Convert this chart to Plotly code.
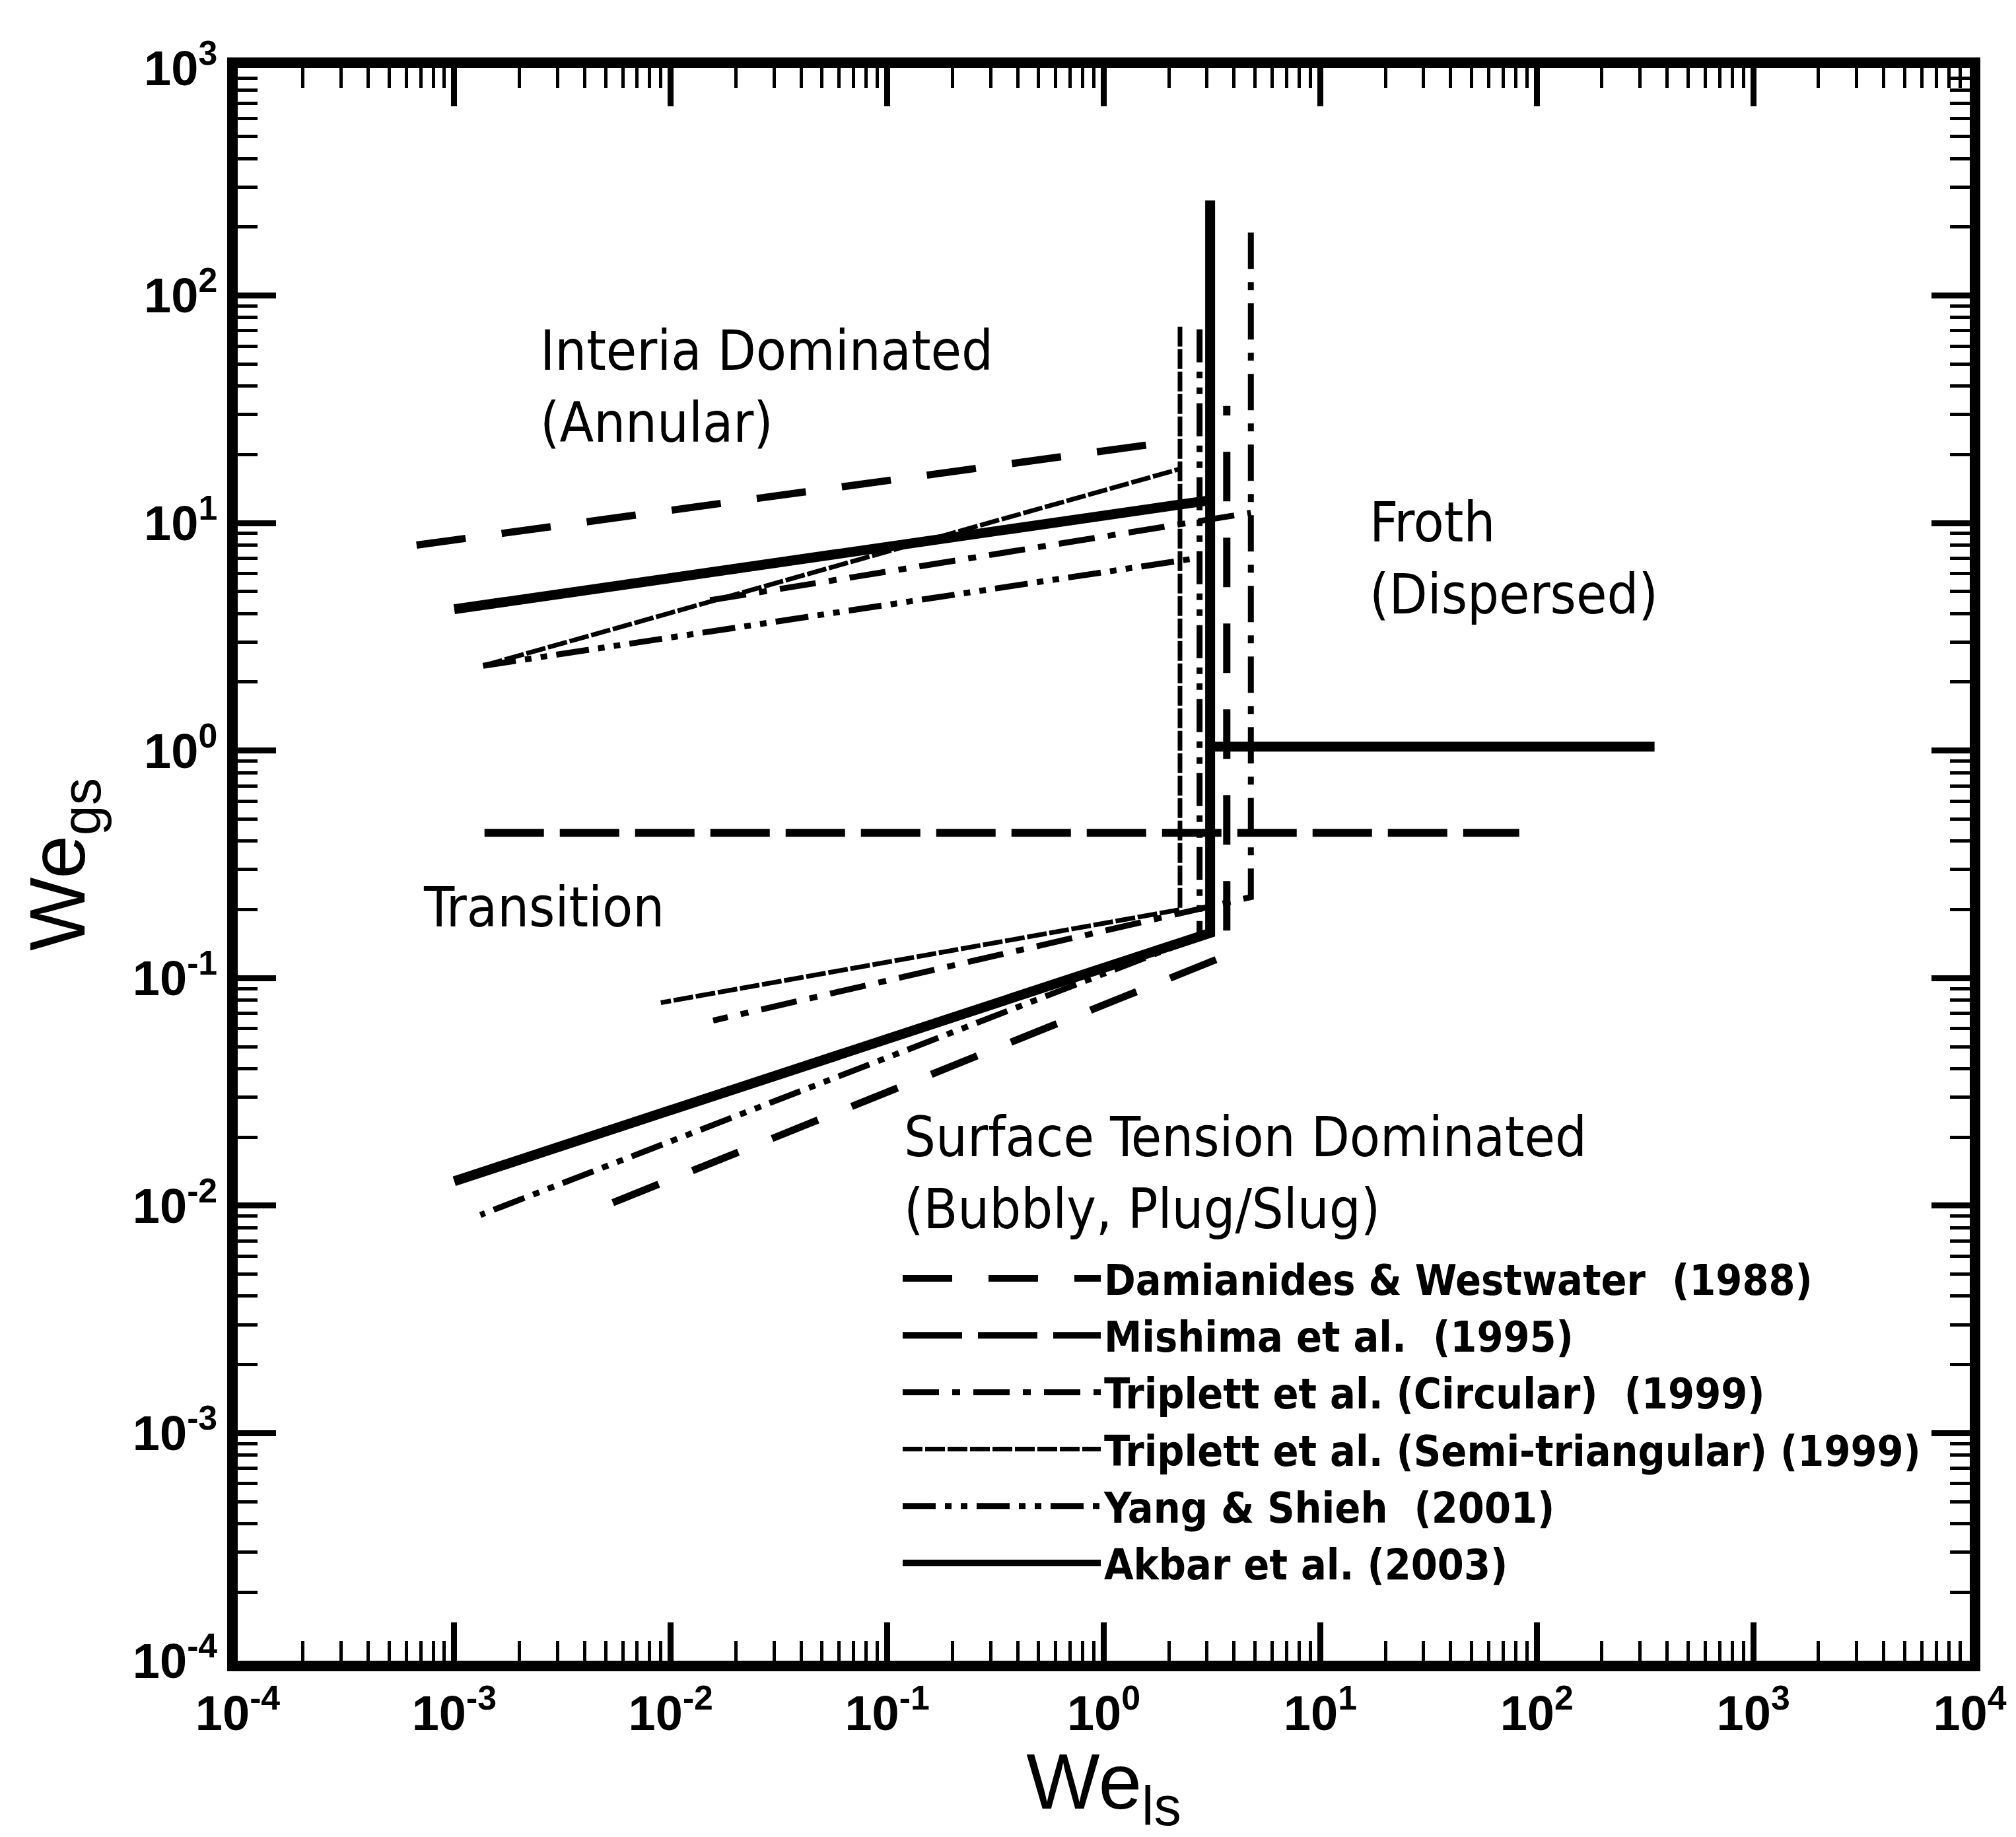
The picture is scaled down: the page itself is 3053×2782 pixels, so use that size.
import plotly.graph_objects as go

# ---------------- data ----------------
# Each correlation: boundary points; None separates segments
dw_x = [6.7e-4, 2.2, None, 5.4e-3, 3.7, 3.7]
dw_y = [8.0, 23.0, None, 0.0103, 0.126, 32.7]

mishima_x = [1.38e-3, 83.0]
mishima_y = [0.435, 0.435]

trip_circ_x = [0.0152, 4.78, None, 4.78, 4.78, 0.0157]
trip_circ_y = [4.58, 11.1, None, 189.0, 0.227, 0.0651]

trip_semi_x = [1.36e-3, 2.25, None, 2.25, 2.25, 0.0090]
trip_semi_y = [2.36, 17.3, None, 73.0, 0.20, 0.078]

yang_x = [1.36e-3, 2.77, None, 2.77, 2.77, 1.32e-3]
yang_y = [2.36, 7.04, None, 71.0, 0.152, 0.0091]

akbar_x = [1.0e-3, 3.1, None, 3.1, 3.1, 1.0e-3, None, 3.1, 350.0]
akbar_y = [4.18, 12.6, None, 262.0, 0.158, 0.0128, None, 1.04, 1.04]

series_names = [
    "Damianides & Westwater  (1988)",
    "Mishima et al.  (1995)",
    "Triplett et al. (Circular)  (1999)",
    "Triplett et al. (Semi-triangular) (1999)",
    "Yang & Shieh  (2001)",
    "Akbar et al. (2003)",
]

x_tick_vals = [1e-4, 1e-3, 1e-2, 1e-1, 1e0, 1e1, 1e2, 1e3, 1e4]
x_tick_text = ["10<sup>-4</sup>", "10<sup>-3</sup>", "10<sup>-2</sup>", "10<sup>-1</sup>",
               "10<sup>0</sup>", "10<sup>1</sup>", "10<sup>2</sup>", "10<sup>3</sup>", "10<sup>4</sup>"]
y_tick_vals = [1e-4, 1e-3, 1e-2, 1e-1, 1e0, 1e1, 1e2, 1e3]
y_tick_text = ["10<sup>-4</sup>", "10<sup>-3</sup>", "10<sup>-2</sup>", "10<sup>-1</sup>",
               "10<sup>0</sup>", "10<sup>1</sup>", "10<sup>2</sup>", "10<sup>3</sup>"]

region_labels = [
    ("Interia Dominated<br>(Annular)", -2.61, 1.60),
    ("Froth<br>(Dispersed)", 1.22, 0.845),
    ("Transition", -3.15, -0.69),
    ("Surface Tension Dominated<br>(Bubbly, Plug/Slug)", -0.93, -1.856),
]

# ---------------- styles ----------------
series_data = [(dw_x, dw_y), (mishima_x, mishima_y), (trip_circ_x, trip_circ_y),
               (trip_semi_x, trip_semi_y), (yang_x, yang_y), (akbar_x, akbar_y)]
styles = [
    dict(width=11, dash="75px,55px"),
    dict(width=12, dash="90px,24px"),
    dict(width=9, dash="55px,20px,12px,20px"),
    dict(width=7, dash="30px,4px"),
    dict(width=9, dash="50px,14px,10px,14px,10px,14px"),
    dict(width=15, dash="solid"),
]

FONT = "Liberation Sans Narrow, DejaVu Sans Condensed, Liberation Sans, Arial"

fig = go.Figure()
for name, (xs, ys), st in zip(series_names, series_data, styles):
    fig.add_trace(go.Scatter(
        x=xs, y=ys, mode="lines", name=name, connectgaps=False,
        line=dict(color="black", width=st["width"], dash=st["dash"]),
    ))

for text, lx, ly in region_labels:
    fig.add_annotation(x=lx, y=ly, xref="x", yref="y", text=text, showarrow=False,
                       xanchor="left", yanchor="middle", align="left",
                       font=dict(family=FONT, size=84, color="black"))

axis_common = dict(
    type="log", showgrid=False, zeroline=False,
    showline=True, linewidth=16, linecolor="black", mirror="allticks",
    ticks="inside", ticklen=58, tickwidth=9, tickcolor="black",
    minor=dict(ticks="inside", ticklen=30, tickwidth=5, tickcolor="black",
               dtick="D1", showgrid=False),
    tickfont=dict(family="Liberation Sans, Arial", size=74, color="black", weight="bold"),
)

fig.update_xaxes(**axis_common, range=[-4, 4], tickmode="array",
                 tickvals=x_tick_vals, ticktext=x_tick_text,
                 title=dict(text="We<sub>ls</sub>", standoff=14,
                            font=dict(family="Liberation Sans, Arial", size=118, color="black")))
fig.update_yaxes(**axis_common, range=[-4, 3], tickmode="array",
                 tickvals=y_tick_vals, ticktext=y_tick_text,
                 title=dict(text="We<sub>gs</sub>", standoff=40,
                            font=dict(family="Liberation Sans, Arial", size=118, color="black")))

fig.update_layout(
    width=3053, height=2782,
    margin=dict(l=360, r=70, t=103, b=267),
    paper_bgcolor="white", plot_bgcolor="white",
    showlegend=True,
    legend=dict(x=0.382, y=0.26, xanchor="left", yanchor="top",
                bgcolor="rgba(0,0,0,0)", itemwidth=300,
                font=dict(family=FONT, size=64, color="black", weight="bold"),
                tracegroupgap=0),
)

fig.write_html("out.html")
